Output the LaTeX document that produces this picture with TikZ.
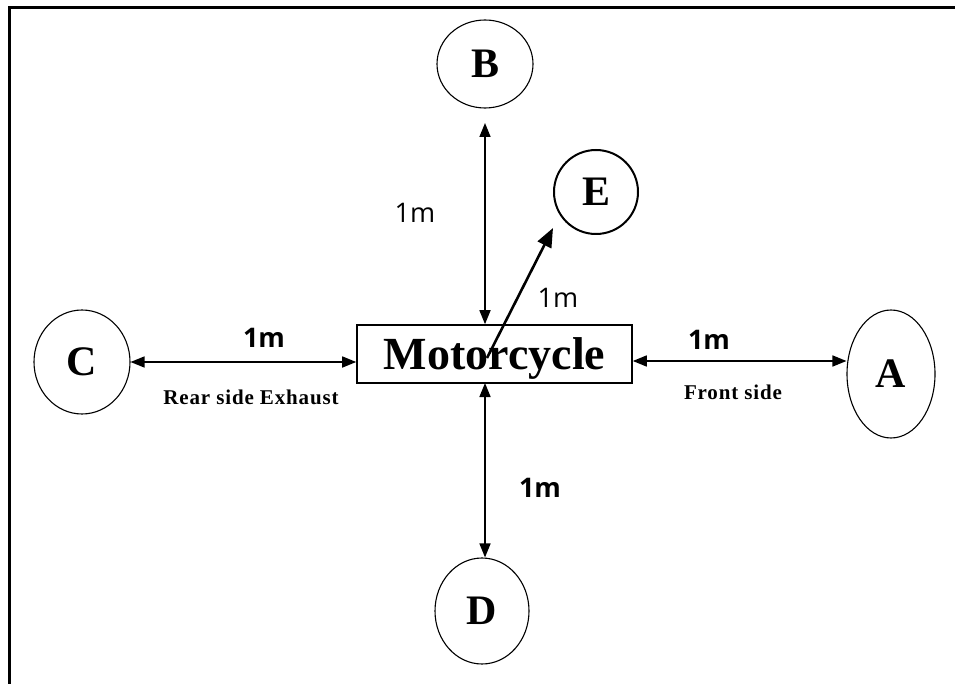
\documentclass[tikz,border=0pt]{standalone}
\usepackage{fontspec}
\setmainfont{Liberation Serif}
\newfontfamily\labfont{Open Sans}
\usetikzlibrary{arrows.meta,shapes.geometric}
\begin{document}
\begin{tikzpicture}[x=1pt,y=-1pt,
  circ/.style={draw,ellipse,line width=1.1pt,inner sep=0pt,font=\fontsize{42}{42}\selectfont\bfseries},
  dimarrow/.style={line width=1.6pt,{Triangle[length=14pt,width=11pt]}-{Triangle[length=14pt,width=11pt]}},
  dimlab/.style={font=\labfont\fontsize{27}{27}\selectfont},
  dimlabb/.style={font=\labfont\bfseries\fontsize{27}{27}\selectfont},
  sidelab/.style={font=\fontsize{21}{21}\selectfont\bfseries\addfontfeature{LetterSpace=4}}]
\useasboundingbox (0,0) rectangle (955,684);
\fill[white] (0,0) rectangle (955,684);
\draw[line width=3pt] (9,690) -- (9,8) -- (960,8);
% nodes
\node[circ,minimum width=96pt,minimum height=88pt] (B) at (485,64) {B};
\node[circ,line width=2pt,minimum width=84pt,minimum height=84pt] (E) at (596,192) {E};
\node[circ,minimum width=96pt,minimum height=104pt] (C) at (82,362) {C};
\node[circ,minimum width=88pt,minimum height=128pt] (A) at (891,374) {A};
\node[circ,minimum width=94pt,minimum height=106pt] (D) at (482,611) {D};
\node[draw,line width=1.6pt,minimum width=275pt,minimum height=58pt,inner sep=0pt,
      text height=31pt,text depth=0pt,
      font=\fontsize{46}{46}\selectfont\bfseries] (M) at (494.5,354) {Motorcycle};
% connectors
\draw[dimarrow] (485,123) coordinate (btip) -- (btip |- M.north);
\draw[dimarrow] (C.east |- 0,362) -- (M.west |- 0,362);
\draw[dimarrow] (M.east |- 0,361) -- (A.west |- 0,361);
\draw[dimarrow] (485,383) coordinate (dstart) -- (dstart |- D.north);
\coordinate (estart) at (487,358);
\coordinate (etip) at (553,228);
\draw[line width=2.6pt,-{Triangle[length=19pt,width=15pt]}] (estart) -- (etip);
% labels
\node[dimlab] (l1) at (415,213) {1m};
\node[dimlab] (l2) at (558,298) {1m};
\node[dimlabb] (l3) at (264,338) {1m};
\node[dimlabb] (l4) at (709,340) {1m};
\node[dimlabb] (l5) at (540,488) {1m};
\node[sidelab] (rear) at (251,397) {Rear side Exhaust};
\node[sidelab] (front) at (733,392) {Front side};
\end{tikzpicture}
\end{document}
